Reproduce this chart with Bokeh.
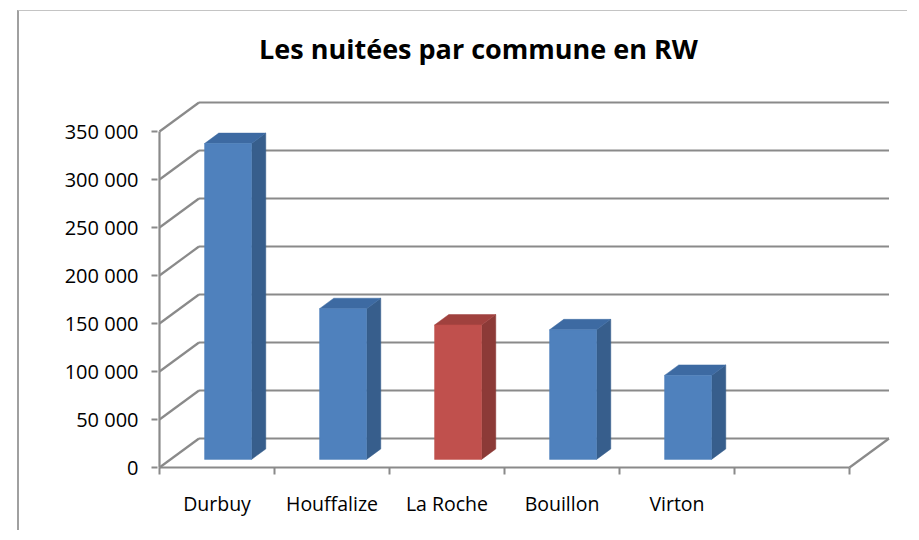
from bokeh.plotting import figure
from bokeh.models import Range1d, FixedTicker, Label
from bokeh.embed import file_html
from bokeh.resources import INLINE

# ---- data ----
title_text = "Les nuitées par commune en RW"
categories = ["Durbuy", "Houffalize", "La Roche", "Bouillon", "Virton"]
nuitees = [329000, 157000, 140000, 135000, 87500]
highlight = "La Roche"
y_ticks = [0, 50000, 100000, 150000, 200000, 250000, 300000, 350000]
y_tick_labels = ["0", "50 000", "100 000", "150 000", "200 000", "250 000", "300 000", "350 000"]
n_slots = 6  # Excel range has one empty trailing category

# ---- pseudo-3D projection settings (pixel based) ----
PX_PER_SLOT = 115.0
PX_PER_Y = 48.0 / 50000.0
X0_PX, Y0_PX = 159.0, 467.0      # page position of the front-left-bottom corner
DX = 39.5 / PX_PER_SLOT          # depth shift in x units
DY = 29.0 / PX_PER_Y             # depth shift in y units
F0, F1 = 0.28, 0.64              # bar front / back depth fractions
BAR_W = 47.0 / PX_PER_SLOT
TICK = 7.0 / PX_PER_Y

GRID = "#8A8A8A"

p = figure(width=890, height=520, output_backend="svg", toolbar_location=None, title=None,
           x_range=Range1d((157 - X0_PX) / PX_PER_SLOT, (890 - X0_PX) / PX_PER_SLOT),
           y_range=Range1d((Y0_PX - 477) / PX_PER_Y, (Y0_PX - 20) / PX_PER_Y),
           min_border_left=138, min_border_right=19, min_border_top=9, min_border_bottom=54)
p.styles = {"margin-left": "17px", "margin-top": "10px",
            "border-left": "2px solid #a0a0a0", "border-top": "1px solid #c4c4c4"}
p.outline_line_color = None
p.xgrid.visible = False
p.ygrid.visible = False
p.background_fill_color = "white"
p.border_fill_color = "white"

# title
p.add_layout(Label(x=(478 - X0_PX) / PX_PER_SLOT, y=(Y0_PX - 47.5) / PX_PER_Y,
                   text=title_text, text_align="center", text_baseline="middle",
                   text_font="Open Sans", text_font_style="bold", text_font_size="27px",
                   text_color="#000000"))

# y axis (front plane)
p.yaxis.ticker = FixedTicker(ticks=y_ticks)
p.yaxis.major_label_overrides = {t: s for t, s in zip(y_ticks, y_tick_labels)}
p.yaxis.axis_line_color = None
p.yaxis.major_tick_line_color = GRID
p.yaxis.major_tick_line_width = 2
p.yaxis.major_tick_out = 6
p.yaxis.major_tick_in = 0
p.yaxis.minor_tick_line_color = None
p.yaxis.major_label_standoff = 13
p.yaxis.major_label_text_font = "Open Sans"
p.yaxis.major_label_text_font_size = "20px"
p.yaxis.major_label_text_color = "#000000"

# x axis: category labels at slot centres
centres = [i + 0.5 for i in range(len(categories))]
p.xaxis.ticker = FixedTicker(ticks=centres)
p.xaxis.major_label_overrides = {c: n for c, n in zip(centres, categories)}
p.xaxis.axis_line_color = None
p.xaxis.major_tick_line_color = None
p.xaxis.minor_tick_line_color = None
p.xaxis.major_tick_out = 0
p.xaxis.major_label_standoff = 12
p.xaxis.major_label_text_font = "Open Sans"
p.xaxis.major_label_text_font_size = "19.5px"
p.xaxis.major_label_text_color = "#000000"

# ---- walls / gridlines ----
p.segment(x0=[DX] * len(y_ticks), y0=[v + DY for v in y_ticks],
          x1=[n_slots + DX] * len(y_ticks), y1=[v + DY for v in y_ticks],
          line_color=GRID, line_width=2.2)
p.segment(x0=[0] * len(y_ticks), y0=y_ticks,
          x1=[DX] * len(y_ticks), y1=[v + DY for v in y_ticks],
          line_color=GRID, line_width=2.2)
p.segment(x0=[0], y0=[y_ticks[0]], x1=[0], y1=[y_ticks[-1]], line_color=GRID, line_width=2.2)
p.segment(x0=[0, n_slots], y0=[0, 0], x1=[n_slots, n_slots + DX], y1=[0, DY],
          line_color=GRID, line_width=2.2)
p.segment(x0=list(range(n_slots + 1)), y0=[0] * (n_slots + 1),
          x1=list(range(n_slots + 1)), y1=[-TICK] * (n_slots + 1),
          line_color=GRID, line_width=2)

# ---- bars ----
front_c, side_c, top_c = [], [], []
for n in categories:
    if n == highlight:
        front_c.append("#C0504D"); side_c.append("#8C3A37"); top_c.append("#A0413E")
    else:
        front_c.append("#4F81BD"); side_c.append("#375E8C"); top_c.append("#3D6AA2")

lefts = [c - BAR_W / 2 + F0 * DX for c in centres]
rights = [c + BAR_W / 2 + F0 * DX for c in centres]
blefts = [c - BAR_W / 2 + F1 * DX for c in centres]
brights = [c + BAR_W / 2 + F1 * DX for c in centres]

side_xs = [[r, br, br, r] for r, br in zip(rights, brights)]
side_ys = [[F0 * DY, F1 * DY, v + F1 * DY, v + F0 * DY] for v in nuitees]
top_xs = [[l, r, br, bl] for l, r, br, bl in zip(lefts, rights, brights, blefts)]
top_ys = [[v + F0 * DY, v + F0 * DY, v + F1 * DY, v + F1 * DY] for v in nuitees]

p.patches(xs=side_xs, ys=side_ys, fill_color=side_c, line_color=side_c, line_width=0.5)
p.patches(xs=top_xs, ys=top_ys, fill_color=top_c, line_color=top_c, line_width=0.5)
p.quad(left=lefts, right=rights, bottom=[F0 * DY] * len(nuitees),
       top=[v + F0 * DY for v in nuitees], fill_color=front_c, line_color=front_c, line_width=0.5)

open("out.html", "w").write(file_html(p, INLINE))
